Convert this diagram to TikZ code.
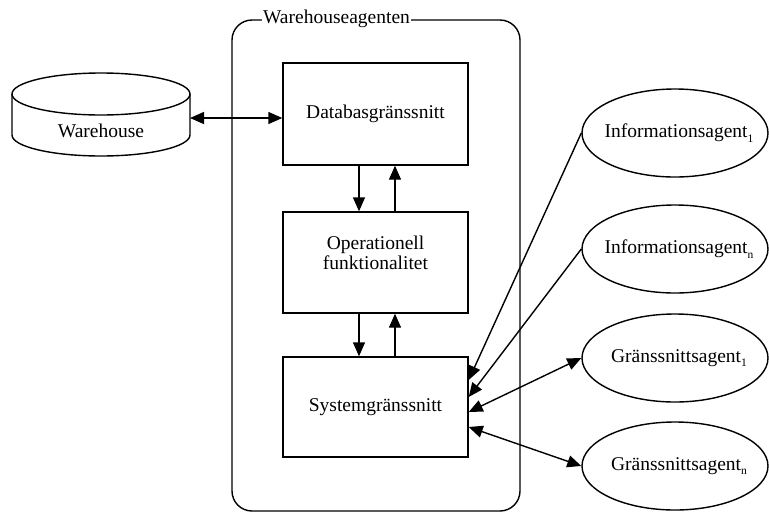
\documentclass[tikz,border=0pt]{standalone}
\usepackage{fontspec}
\setmainfont{Liberation Serif}
\usetikzlibrary{arrows.meta,shapes.geometric}
\newcommand{\lowidx}[1]{\raisebox{-0.5ex}{\fontsize{11.5}{11.5}\selectfont #1}}
\tikzset{
  lw/.style={line width=1.4pt},
  blockbox/.style={draw,lw,rectangle,minimum width=185pt,align=center},
  agentell/.style={draw,lw,ellipse,minimum width=186pt,minimum height=88pt,inner sep=0pt},
  tip/.style={-{Triangle[length=14pt,width=12pt]}},
  tips/.style={{Triangle[length=14pt,width=12pt]}-{Triangle[length=14pt,width=12pt]}}
}
\begin{document}
\begin{tikzpicture}[x=1pt,y=-1pt,font=\fontsize{19.5}{22}\selectfont]
\useasboundingbox (0,0) rectangle (769,512);

% agent frame
\draw[lw,rounded corners=20pt] (232,20) rectangle (520,511);
\node[fill=white,inner xsep=1pt,inner ysep=2pt] (wa) at (336.5,19) {Warehouseagenten};

% internal blocks
\node[blockbox,minimum height=102pt] (db) at (375.5,114) {Databasgränssnitt};
\node[blockbox,minimum height=101pt,
      label={[align=center,yshift=10pt]center:Operationell\\[-2pt]funktionalitet}] (op) at (375.5,262.5) {};
\node[blockbox,minimum height=100pt] (sys) at (375.5,407) {Systemgränssnitt};

% warehouse cylinder
\draw[lw] (101,94) ellipse [x radius=89, y radius=21];
\draw[lw] (12,94) -- (12,135) arc[start angle=180,end angle=0,x radius=89,y radius=21] -- (190,94);
\node[minimum width=178pt,inner sep=0pt] (wh) at (101,131) {Warehouse};
\coordinate (whport) at (190,118);

% external agents
\node[agentell,label={center:\hspace*{8pt}Informationsagent\lowidx{1}}] (i1) at (675,133) {};
\node[agentell,label={center:\hspace*{8pt}Informationsagent\lowidx{n}}] (in) at (675,249) {};
\node[agentell,label={center:\hspace*{8pt}Gränssnittsagent\lowidx{1}}] (g1) at (675,358) {};
\node[agentell,label={center:\hspace*{8pt}Gränssnittsagent\lowidx{n}}] (gn) at (675,466) {};

% connectors
\draw[lw,tips] (whport) -- (whport -| db.west);
\draw[lw,tip] ([xshift=-16.5pt]db.south) -- ([xshift=-16.5pt]op.north);
\draw[lw,tip] ([xshift=19.5pt]op.north) -- ([xshift=19.5pt]db.south);
\draw[lw,tip] ([xshift=-16.5pt]op.south) -- ([xshift=-16.5pt]sys.north);
\draw[lw,tip] ([xshift=19.5pt]sys.north) -- ([xshift=19.5pt]op.south);
\draw[lw,tip] (i1.west) -- ([yshift=27pt]sys.east);
\draw[lw,tip] (in.west) -- ([yshift=10pt]sys.east);
\draw[lw,tips] ([yshift=-5pt]sys.east) -- (g1.west);
\draw[lw,tips] ([yshift=-20pt]sys.east) -- (gn.west);
\end{tikzpicture}
\end{document}
